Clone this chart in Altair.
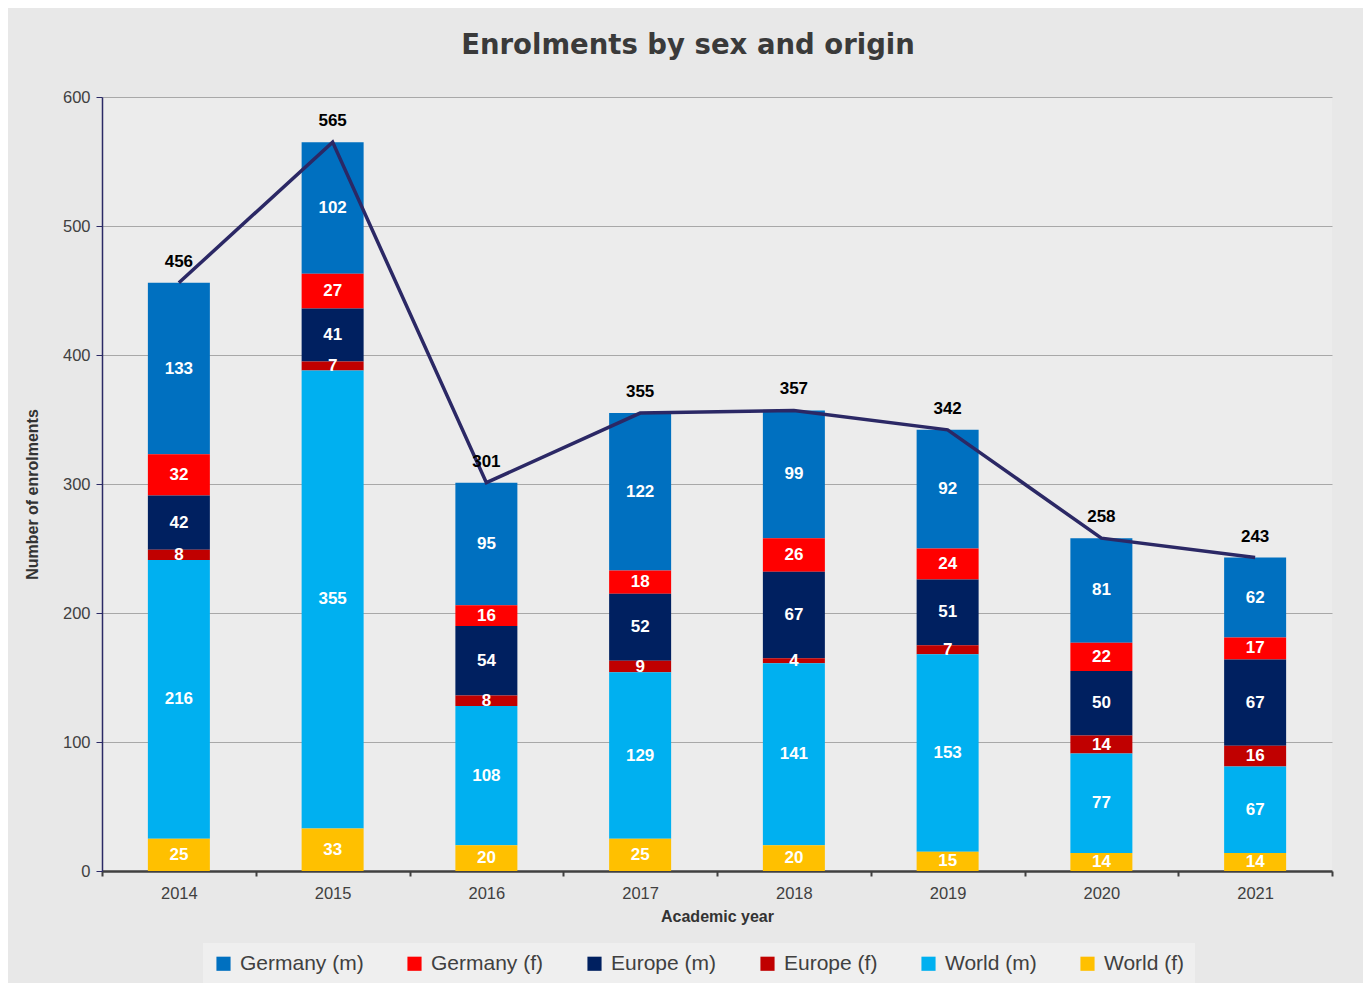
import altair as alt
import pandas as pd

years = ["2014", "2015", "2016", "2017", "2018", "2019", "2020", "2021"]
series = ["Germany (m)", "Germany (f)", "Europe (m)", "Europe (f)", "World (m)", "World (f)"]
colors = ["#0070C0", "#FF0000", "#002060", "#C00000", "#00B0F0", "#FFC000"]
# stacking order from bottom
stack_order = {"World (f)": 0, "World (m)": 1, "Europe (f)": 2, "Europe (m)": 3, "Germany (f)": 4, "Germany (m)": 5}

germany_m = [133, 102, 95, 122, 99, 92, 81, 62]
germany_f = [32, 27, 16, 18, 26, 24, 22, 17]
europe_m = [42, 41, 54, 52, 67, 51, 50, 67]
europe_f = [8, 7, 8, 9, 4, 7, 14, 16]
world_m = [216, 355, 108, 129, 141, 153, 77, 67]
world_f = [25, 33, 20, 25, 20, 15, 14, 14]

values = {
    "Germany (m)": germany_m,
    "Germany (f)": germany_f,
    "Europe (m)": europe_m,
    "Europe (f)": europe_f,
    "World (m)": world_m,
    "World (f)": world_f,
}

rows = []
for s in series:
    for y, v in zip(years, values[s]):
        rows.append({"year": y, "series": s, "value": v, "ord": stack_order[s]})
df = pd.DataFrame(rows)

FONT = "Liberation Sans"
x_enc = alt.X(
    "year:N",
    title="Academic year",
    scale=alt.Scale(paddingInner=0, paddingOuter=0),
    axis=alt.Axis(
        labelAngle=0, labelFontSize=16.5, labelColor="#404040", labelFont=FONT,
        titleFontSize=16, titleFontWeight="bold", titleColor="#333333", titleFont=FONT,
        titlePadding=7, domainColor="#404040", domainWidth=2.5, tickColor="#404040",
        tickWidth=2, tickSize=5, tickBand="extent", labelPadding=9, grid=False,
    ),
)

base = alt.Chart(df)

bars = base.mark_bar(size=62).encode(
    x=x_enc,
    y=alt.Y(
        "value:Q", stack="zero", title="Number of enrolments",
        scale=alt.Scale(domain=[0, 600]),
        axis=alt.Axis(
            values=[0, 100, 200, 300, 400, 500, 600], labelFontSize=16.5, labelColor="#404040",
            labelFont=FONT, titleFontSize=16, titleFontWeight="bold", titleColor="#333333",
            titleFont=FONT, titlePadding=22, titleY=397, domainColor="#2b2a66", domainWidth=1.5,
            tickColor="#2b2a66", tickSize=6, gridColor="#a8a8a8", gridWidth=1, labelPadding=6,
        ),
    ),
    color=alt.Color(
        "series:N",
        scale=alt.Scale(domain=series, range=colors),
        legend=alt.Legend(
            title=None, orient="none", direction="horizontal", legendX=101, legendY=846,
            labelFontSize=21, labelColor="#404040", labelFont=FONT, symbolType="square",
            symbolSize=200, symbolStrokeWidth=0, columnPadding=40, padding=10,
            fillColor="#efefef", labelOffset=6,
        ),
    ),
    order=alt.Order("ord:Q", sort="ascending"),
)

seg_labels = base.transform_stack(
    stack="value", groupby=["year"], as_=["y0", "y1"], sort=[alt.SortField("ord", order="ascending")]
).transform_calculate(
    mid="(datum.y0 + datum.y1) / 2"
).mark_text(
    color="white", fontWeight="bold", fontSize=17, font=FONT, baseline="middle"
).encode(
    x=alt.X("year:N"),
    y=alt.Y("mid:Q"),
    text=alt.Text("value:Q"),
)

totals = base.transform_aggregate(total="sum(value)", groupby=["year"])

line = totals.mark_line(color="#2b2865", strokeWidth=3.5).encode(
    x=alt.X("year:N"),
    y=alt.Y("total:Q"),
)

total_labels = totals.mark_text(
    color="black", fontWeight="bold", fontSize=17, font=FONT, baseline="bottom", dy=-12
).encode(
    x=alt.X("year:N"),
    y=alt.Y("total:Q"),
    text=alt.Text("total:Q"),
)

chart = alt.layer(bars, seg_labels, line, total_labels).properties(
    width=1230,
    height=774,
    title=alt.TitleParams(
        "Enrolments by sex and origin", fontSize=27.5, fontWeight="bold", font="DejaVu Sans",
        color="#3a3a3a", anchor="middle", dx=-29, offset=30,
    ),
    autosize=alt.AutoSizeParams(type="none"),
    padding={"left": 94, "top": 89, "right": 31, "bottom": 112},
    background="#e8e8e8",
).configure_view(stroke=None, fill="#ececec")

chart.save("out.html", embed_options={"renderer": "svg", "actions": False})
